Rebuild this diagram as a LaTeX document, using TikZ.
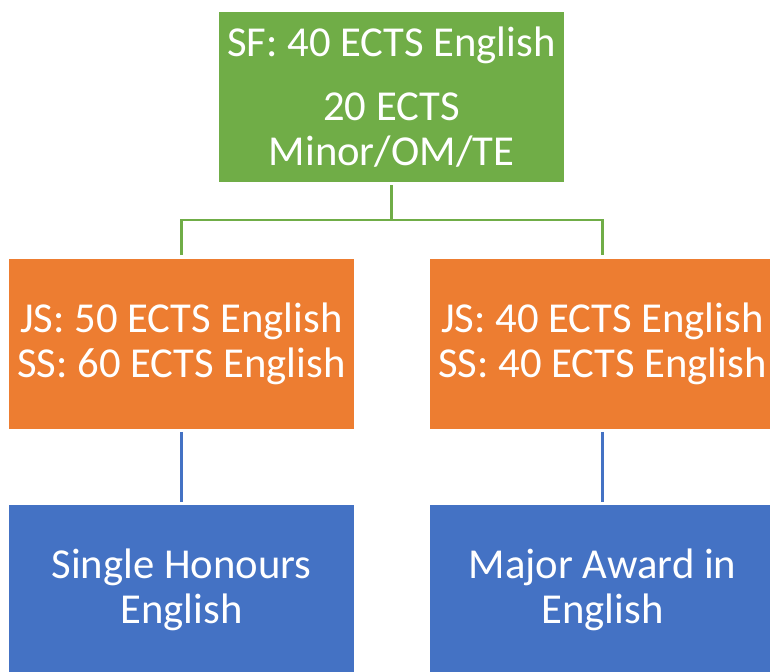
\documentclass[tikz,border=0pt]{standalone}
\usepackage{fontspec}
\setmainfont{Carlito}
\usetikzlibrary{positioning}

\definecolor{sfgreen}{HTML}{70AD47}
\definecolor{jsorange}{HTML}{ED7D31}
\definecolor{awblue}{HTML}{4472C4}

\begin{document}
\begin{tikzpicture}[
    x=0.75pt, y=-0.75pt,
    box/.style={rectangle, inner sep=0pt, minimum width=258.75pt, minimum height=127.5pt, align=center, text=white, font=\fontsize{32pt}{33.75pt}\selectfont},
    gline/.style={draw=sfgreen, line width=1.9pt, shorten <=2.3pt, shorten >=2.3pt},
    bline/.style={draw=awblue, line width=1.7pt, shorten <=2.3pt, shorten >=2.3pt},
]
\useasboundingbox (0,0) rectangle (770,671);

% Top level
\node[box, fill=sfgreen] (sf) at (391.5,97) {SF: 40 ECTS English\\[14pt]20 ECTS\\Minor/OM/TE};

% Second level
\node[box, fill=jsorange] (jsleft) at (181.5,343.5) {JS: 50 ECTS English\\SS: 60 ECTS English};
\node[box, fill=jsorange] (jsright) at (602.5,343.5) {JS: 40 ECTS English\\SS: 40 ECTS English};

% Awards
\node[box, fill=awblue] (single) at (181.5,590) {Single Honours\\English};
\node[box, fill=awblue] (major) at (602.5,590) {Major Award in\\English};

% Connectors
\coordinate (fork) at (391.5,220);
\draw[gline] (sf.south) -- (fork) -| (jsleft.north);
\draw[gline] (sf.south) -- (fork) -| (jsright.north);
\draw[bline] (jsleft) -- (single);
\draw[bline] (jsright) -- (major);

\end{tikzpicture}
\end{document}
